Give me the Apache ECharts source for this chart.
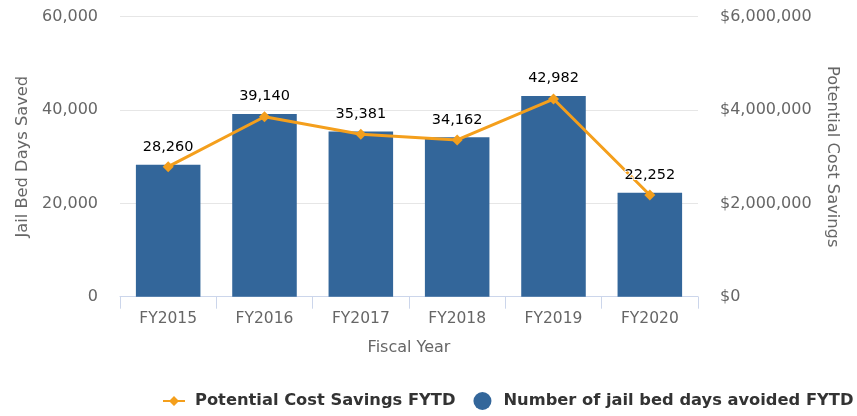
<!DOCTYPE html>
<html>
<head>
<meta charset="utf-8">
<style>
  html, body { margin: 0; padding: 0; background: #fff; }
  #chart { width: 857px; height: 416px; }
</style>
<script src="https://cdn.jsdelivr.net/npm/echarts@6/dist/echarts.min.js"></script>
</head>
<body>
<div id="chart"></div>
<script>
// Fiscal years on the category axis
const fiscalYears = ['FY2015', 'FY2016', 'FY2017', 'FY2018', 'FY2019', 'FY2020'];
// Jail bed days avoided per fiscal year (left axis)
const bedDaysAvoided = [28260, 39140, 35381, 34162, 42982, 22252];
// Potential cost savings per fiscal year in dollars (right axis)
const costSavings = [2786000, 3857000, 3480000, 3358000, 4236000, 2180000];
// Axis ranges
const bedDaysTicks = { min: 0, max: 60000, interval: 20000 };
const savingsTicks = { min: 0, max: 6000000, interval: 2000000 };

const withCommas = v => String(Math.round(v)).replace(/\B(?=(\d{3})+(?!\d))/g, ',');

const FONT = 'DejaVu Sans';
const BAR_COLOR = '#33669a';
const LINE_COLOR = '#f49f1c';
// legend marker for the savings line: a short stroke with a diamond on it
const LINE_ICON = 'path://M0,8H44V12H0Z M22,0L32,10L22,20L12,10Z';

const chart = echarts.init(document.getElementById('chart'), null, { renderer: 'canvas' });

chart.setOption({
  animation: false,
  backgroundColor: '#ffffff',
  textStyle: { fontFamily: FONT },
  grid: { left: 120, right: 159, top: 16.7, bottom: 119.3, containLabel: false },
  legend: {
    data: [
      { name: 'Potential Cost Savings FYTD', icon: LINE_ICON },
      { name: 'Number of jail bed days avoided FYTD', icon: 'circle' }
    ],
    left: 163,
    top: 392,
    padding: 0,
    itemWidth: 22,
    itemHeight: 18,
    itemGap: 18,
    textStyle: {
      fontFamily: FONT, fontSize: 16.3, fontWeight: 'bold', color: '#333333',
      padding: [0, 0, 0, 5]
    }
  },
  xAxis: {
    type: 'category',
    data: fiscalYears,
    name: 'Fiscal Year',
    nameLocation: 'middle',
    nameGap: 43,
    nameTextStyle: { fontFamily: FONT, fontSize: 16, color: '#666666' },
    axisLine: { lineStyle: { color: '#ccd6eb', width: 1 } },
    axisTick: { show: true, alignWithLabel: false, length: 12, lineStyle: { color: '#ccd6eb' } },
    axisLabel: { margin: 14, fontFamily: FONT, fontSize: 15.5, color: '#666666' },
    splitLine: { show: false }
  },
  yAxis: [
    {
      type: 'value',
      min: bedDaysTicks.min,
      max: bedDaysTicks.max,
      interval: bedDaysTicks.interval,
      name: 'Jail Bed Days Saved',
      nameLocation: 'middle',
      nameGap: 89,
      nameRotate: 90,
      nameTextStyle: { fontFamily: FONT, fontSize: 16.3, color: '#666666' },
      axisLine: { show: false },
      axisTick: { show: false },
      axisLabel: { margin: 22, fontFamily: FONT, fontSize: 16, color: '#666666', formatter: withCommas },
      splitLine: { lineStyle: { color: '#e6e6e6', width: 1 } }
    },
    {
      type: 'value',
      min: savingsTicks.min,
      max: savingsTicks.max,
      interval: savingsTicks.interval,
      name: 'Potential Cost Savings',
      nameLocation: 'middle',
      nameGap: 126,
      nameRotate: 270,
      nameTextStyle: { fontFamily: FONT, fontSize: 16.3, color: '#666666' },
      axisLine: { show: false },
      axisTick: { show: false },
      axisLabel: { margin: 22, fontFamily: FONT, fontSize: 16, color: '#666666', formatter: v => '$' + withCommas(v) },
      splitLine: { show: false }
    }
  ],
  series: [
    {
      name: 'Number of jail bed days avoided FYTD',
      type: 'bar',
      yAxisIndex: 0,
      data: bedDaysAvoided,
      barWidth: '67%',
      itemStyle: { color: BAR_COLOR },
      z: 2
    },
    {
      name: 'Potential Cost Savings FYTD',
      type: 'line',
      yAxisIndex: 1,
      data: costSavings,
      symbol: 'diamond',
      symbolSize: 11,
      lineStyle: { color: LINE_COLOR, width: 3 },
      itemStyle: { color: LINE_COLOR },
      z: 3
    },
    {
      // value labels for the bars, stacked above the savings line
      name: 'bed-day-labels',
      type: 'bar',
      yAxisIndex: 0,
      data: bedDaysAvoided,
      barWidth: '67%',
      barGap: '-100%',
      itemStyle: { color: 'rgba(0,0,0,0)' },
      silent: true,
      z: 5,
      label: {
        show: true,
        position: 'top',
        distance: 10,
        fontFamily: FONT,
        fontSize: 14.5,
        color: '#000000',
        textBorderColor: '#ffffff',
        textBorderWidth: 2,
        formatter: p => withCommas(p.value)
      }
    }
  ]
});
</script>
</body>
</html>
